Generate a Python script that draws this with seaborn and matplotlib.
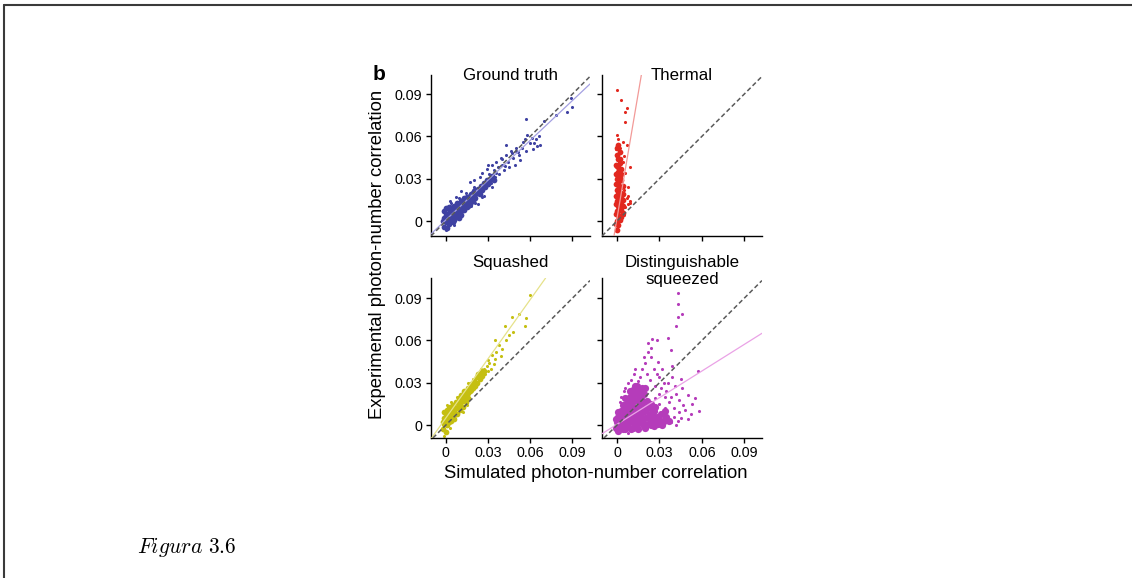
import matplotlib
matplotlib.use("Agg")
import matplotlib.pyplot as plt
import seaborn as sns
from matplotlib.lines import Line2D

sns.set_theme(style="ticks")
plt.rcParams['font.family'] = ['Liberation Sans', 'DejaVu Sans']
plt.rcParams['mathtext.fontset'] = 'cm'
for key in ['text.color', 'axes.labelcolor', 'xtick.color', 'ytick.color']:
    plt.rcParams[key] = 'black'

# axis ticks shared by every panel
tick_values = [0, 0.03, 0.06, 0.09]
tick_labels = ['0', '0.03', '0.06', '0.09']

panel_titles = ['Ground truth', 'Thermal', 'Squashed', 'Distinguishable\nsqueezed']
point_colors = ['#3f42a2', '#e2281f', '#c5bf12', '#b53cba']
fit_colors = ['#a4a0e2', '#f29a98', '#e6e28a', '#eaa2e6']
fit_slopes = [0.94, 5.9, 1.4, 0.63]
fit_intercepts = [0.0008, 0.0019, 0.005, 0.0005]

# ground truth: dense core and scattered points
gt_core_x = [-0.001, -0.001, -0.001, 0.000, 0.000, 0.000, 0.001, 0.001, 0.002, 0.002, 0.002,
             0.003, 0.003, 0.004, 0.004, 0.004, 0.005, 0.006, 0.006, 0.006, 0.007,
             0.008, 0.008, 0.009, 0.009, 0.010, 0.011, 0.011, 0.012, 0.013, 0.013,
             0.014, 0.015, 0.015, 0.016, 0.017, 0.018, 0.018, 0.019, 0.020, 0.020,
             0.021, 0.022, 0.023, 0.024, 0.025, 0.026, 0.027, 0.028, 0.029, 0.030, 0.032,
             0.001, 0.003, 0.005, 0.007, 0.009, 0.012, 0.014, 0.017, 0.019, 0.021, 0.023,
             0.025, 0.027, 0.029, 0.031, 0.033, 0.034, 0.005, 0.008, 0.011, -0.002, 0.016]
gt_core_y = [-0.004, 0.002, 0.007, -0.001, 0.004, 0.009, -0.005, 0.001, 0.006, -0.002, 0.010,
             0.002, -0.001, 0.005, 0.009, 0.000, 0.003, 0.007, 0.011, 0.001, 0.004,
             0.008, 0.013, 0.005, 0.002, 0.010, 0.007, 0.014, 0.011, 0.008, 0.016,
             0.012, 0.010, 0.017, 0.014, 0.012, 0.019, 0.016, 0.014, 0.021, 0.018,
             0.016, 0.020, 0.023, 0.019, 0.025, 0.022, 0.027, 0.024, 0.029, 0.026, 0.030,
             0.005, 0.008, 0.010, 0.009, 0.012, 0.015, 0.015, 0.018, 0.020, 0.022, 0.020,
             0.023, 0.025, 0.027, 0.028, 0.032, 0.029, -0.001, 0.003, 0.004, 0.000, 0.011]
gt_sparse_x = [0.017, 0.020, 0.024, 0.026, 0.029, 0.031, 0.033, 0.034, 0.035, 0.036, 0.037, 0.038,
               0.039, 0.040, 0.041, 0.043, 0.044, 0.045, 0.046, 0.048, 0.049, 0.050, 0.052, 0.053,
               0.055, 0.057, 0.058, 0.060, 0.062, 0.064, 0.066, 0.067, 0.070, 0.078, 0.086, 0.090,
               0.089, 0.057, 0.043, 0.050, 0.065, 0.023, 0.027, 0.033, 0.003, 0.007, 0.011, 0.000, 0.006,
               0.030, 0.032, 0.036, 0.040, 0.042, 0.047, 0.051, 0.054, 0.056, 0.061, 0.063, 0.004,
               0.009, 0.014, 0.020, 0.018, 0.021, 0.026]
gt_sparse_y = [0.028, 0.029, 0.031, 0.034, 0.037, 0.033, 0.040, 0.036, 0.031, 0.042, 0.038, 0.033,
               0.045, 0.040, 0.036, 0.047, 0.042, 0.038, 0.050, 0.045, 0.040, 0.052, 0.047, 0.043,
               0.056, 0.050, 0.061, 0.055, 0.051, 0.058, 0.060, 0.054, 0.071, 0.075, 0.077, 0.081,
               0.087, 0.072, 0.054, 0.050, 0.053, 0.012, 0.018, 0.024, 0.014, 0.017, 0.021, -0.006, -0.003,
               0.040, 0.027, 0.034, 0.044, 0.039, 0.048, 0.049, 0.052, 0.058, 0.059, 0.055, 0.013,
               0.016, 0.020, 0.024, 0.011, 0.013, 0.017]

# thermal
th_core_x = [0.000, 0.001, 0.000, 0.002, 0.001, 0.003, 0.000, 0.002, 0.004, 0.001, 0.003, 0.000,
             0.002, 0.004, 0.001, 0.003, 0.000, 0.002, 0.004, 0.001, 0.003, 0.000, 0.002, 0.001,
             0.003, 0.000, 0.002, 0.001, 0.000, 0.002,
             -0.001, -0.001, -0.001, -0.001, -0.001, -0.001, -0.001, 0.001, 0.001, 0.001, 0.001,
             0.001, 0.001, 0.003, 0.003, 0.003, 0.003, 0.004, 0.004, 0.002, 0.002, 0.000, 0.001]
th_core_y = [-0.006, -0.003, 0.000, 0.001, 0.004, 0.003, 0.007, 0.008, 0.006, 0.011, 0.012, 0.014,
             0.016, 0.015, 0.019, 0.020, 0.022, 0.024, 0.025, 0.027, 0.029, 0.030, 0.032, 0.035,
             0.037, 0.039, 0.041, 0.044, 0.047, 0.049,
             -0.002, 0.005, 0.012, 0.018, 0.026, 0.033, 0.040, 0.001, 0.008, 0.015, 0.023,
             0.031, 0.038, 0.008, 0.016, 0.024, 0.033, 0.011, 0.019, 0.036, 0.044, 0.052, 0.054]
th_sparse_x = [0.000, 0.003, 0.007, 0.006, 0.006, 0.000, 0.001, 0.004, 0.007, 0.002, 0.005, 0.009,
               0.006, 0.008, 0.007, 0.009, 0.008, 0.005, 0.006, 0.005, -0.001, 0.004, 0.009, 0.008]
th_sparse_y = [0.093, 0.086, 0.080, 0.077, 0.070, 0.061, 0.058, 0.056, 0.054, 0.052, 0.046, 0.038,
               0.034, 0.024, 0.016, 0.013, 0.018, 0.022, 0.010, 0.004, 0.051, 0.042, 0.014, 0.012]

# squashed
sq_core_x = [-0.002, -0.001, -0.001, 0.000, 0.000, 0.000, 0.001, 0.001, 0.002, 0.002, 0.003, 0.003,
             0.004, 0.004, 0.005, 0.005, 0.006, 0.006, 0.007, 0.007, 0.008, 0.009, 0.009, 0.010,
             0.011, 0.011, 0.012, 0.013, 0.013, 0.014, 0.015, 0.016, 0.016, 0.017, 0.018, 0.019,
             0.020, 0.021, 0.022, 0.024, 0.025, 0.026,
             0.001, 0.003, 0.005, 0.006, 0.008, 0.010, 0.012, 0.014, 0.016, 0.018, 0.020, 0.022,
             0.023, 0.027, -0.002, -0.001, 0.002]
sq_core_y = [-0.003, 0.001, 0.005, -0.005, 0.003, 0.008, 0.000, 0.011, 0.005, 0.002, 0.008, 0.013,
             0.003, 0.010, 0.006, 0.014, 0.009, 0.004, 0.012, 0.016, 0.008, 0.014, 0.019, 0.011,
             0.016, 0.021, 0.013, 0.019, 0.024, 0.016, 0.022, 0.026, 0.019, 0.024, 0.029, 0.026,
             0.031, 0.028, 0.034, 0.033, 0.037, 0.035,
             0.006, 0.004, 0.010, 0.013, 0.012, 0.016, 0.019, 0.021, 0.023, 0.025, 0.028, 0.030,
             0.036, 0.038, 0.002, 0.009, 0.012]
sq_sparse_x = [0.027, 0.028, 0.029, 0.030, 0.031, 0.032, 0.033, 0.034, 0.035, 0.035, 0.036, 0.038,
               0.039, 0.040, 0.042, 0.043, 0.045, 0.047, 0.048, 0.052, 0.057, 0.060, 0.056, 0.030,
               0.025, 0.023, 0.012, 0.015, 0.001, 0.004, 0.008, -0.001, 0.003, 0.019, 0.016]
sq_sparse_y = [0.040, 0.036, 0.042, 0.038, 0.044, 0.040, 0.050, 0.043, 0.047, 0.060, 0.052, 0.057,
               0.049, 0.054, 0.070, 0.060, 0.064, 0.077, 0.066, 0.079, 0.076, 0.092, 0.070, 0.046,
               0.040, 0.030, 0.009, 0.014, 0.014, 0.016, 0.020, -0.008, -0.002, 0.033, 0.030]

# distinguishable squeezed
ds_core_x = [-0.001, 0.000, 0.001, 0.001, 0.002, 0.003, 0.003, 0.004, 0.005, 0.005, 0.006, 0.007,
             0.007, 0.008, 0.008, 0.009, 0.010, 0.010, 0.011, 0.011, 0.012, 0.012, 0.013, 0.014,
             0.014, 0.015, 0.016, 0.016, 0.017, 0.018, 0.019, 0.019, 0.020, 0.021, 0.022, 0.023,
             0.024, 0.025, 0.026, 0.028, 0.029, 0.031, 0.033, 0.035, 0.018, 0.013, 0.004, 0.006,
             0.002, 0.004, 0.006, 0.007, 0.009, 0.009, 0.010, 0.011, 0.012, 0.013, 0.013, 0.014,
             0.015, 0.016, 0.017, 0.017, 0.018, 0.019, 0.020, 0.021, 0.022, 0.023, 0.024, 0.025,
             0.027, 0.027, 0.030, 0.032, 0.034, 0.037, 0.003, 0.006, 0.010, 0.015, 0.020, 0.026,
             0.011, 0.014, 0.016, 0.020, -0.001, 0.001, 0.002, 0.005, 0.008, 0.009]
ds_core_y = [-0.002, 0.002, -0.004, 0.006, 0.000, 0.004, 0.010, -0.003, 0.002, 0.008, 0.014, -0.001,
             0.005, 0.011, 0.018, 0.002, 0.008, 0.015, -0.002, 0.022, 0.004, 0.012, 0.018, 0.000,
             0.008, 0.025, 0.014, 0.003, 0.020, 0.009, -0.001, 0.016, 0.005, 0.012, 0.001, 0.008,
             0.015, 0.003, 0.010, 0.006, 0.001, 0.008, 0.003, 0.006, 0.026, 0.028, 0.014, 0.019,
             0.008, 0.005, 0.010, 0.002, 0.013, 0.020, 0.004, 0.010, 0.017, 0.000, 0.006, 0.022,
             0.012, 0.018, 0.006, 0.013, 0.002, 0.022, 0.010, 0.017, 0.006, 0.013, 0.000, 0.008,
             0.004, 0.013, 0.004, 0.000, 0.010, 0.003, 0.000, -0.003, -0.003, -0.003, -0.002, -0.001,
             0.025, 0.028, 0.024, 0.026, 0.004, 0.009, 0.003, 0.005, 0.015, 0.024]
ds_sparse_x = [0.043, 0.043, 0.043, 0.046, 0.042, 0.038, 0.036, 0.028, 0.025, 0.022, 0.024, 0.020,
               0.018, 0.021, 0.026, 0.030, 0.033, 0.035, 0.038, 0.041, 0.044, 0.047, 0.050, 0.055,
               0.048, 0.052, 0.057, 0.045, 0.040, 0.037, 0.030, 0.027, 0.023, 0.010, 0.012, 0.016,
               0.005, 0.002, 0.038, 0.042, 0.044, 0.030, 0.034, 0.027, 0.008,
               0.031, 0.036, 0.039, 0.042, 0.046, 0.028, 0.032, 0.019, 0.024, 0.029, 0.034, 0.040,
               0.043, 0.050, 0.053, 0.058, 0.015, 0.013, 0.008, 0.006, 0.003, 0.045, 0.039, 0.022]
ds_sparse_y = [0.094, 0.086, 0.077, 0.079, 0.070, 0.053, 0.062, 0.060, 0.061, 0.052, 0.048, 0.044,
               0.040, 0.036, 0.040, 0.034, 0.030, 0.024, 0.020, 0.028, 0.018, 0.014, 0.021, 0.019,
               0.011, 0.008, 0.038, 0.005, 0.012, 0.016, 0.022, 0.028, 0.032, 0.032, 0.036, 0.034,
               0.024, 0.016, 0.002, 0.000, 0.009, 0.015, 0.012, 0.019, -0.006,
               0.026, 0.030, 0.034, 0.022, 0.026, 0.036, 0.040, 0.048, 0.055, 0.045, 0.020, 0.006,
               0.003, 0.004, 0.015, 0.010, 0.031, 0.040, 0.030, 0.026, 0.020, 0.033, 0.042, 0.058]

core_points = [(gt_core_x, gt_core_y), (th_core_x, th_core_y), (sq_core_x, sq_core_y), (ds_core_x, ds_core_y)]
sparse_points = [(gt_sparse_x, gt_sparse_y), (th_sparse_x, th_sparse_y),
                 (sq_sparse_x, sq_sparse_y), (ds_sparse_x, ds_sparse_y)]

fig = plt.figure(figsize=(11.32, 5.78), dpi=100)
rects = [[0.3807, 0.5917, 0.1405, 0.2785], [0.5318, 0.5917, 0.1413, 0.2785],
         [0.3807, 0.2422, 0.1405, 0.2768], [0.5318, 0.2422, 0.1413, 0.2768]]
ylims = [(-0.0106, 0.1035), (-0.0106, 0.1035), (-0.0092, 0.1043), (-0.0092, 0.1043)]
title_offsets = [-0.5, -0.5, 11.5, 5]
core_sizes = [17, 17, 17, 27]

for i in range(4):
    ax = fig.add_axes(rects[i])
    cx, cy = core_points[i]
    sx, sy = sparse_points[i]
    sns.scatterplot(x=cx, y=cy, ax=ax, color=point_colors[i], s=core_sizes[i], linewidth=0, zorder=2)
    sns.scatterplot(x=sx, y=sy, ax=ax, color=point_colors[i], s=5, linewidth=0, zorder=2)
    ax.axline((0, fit_intercepts[i]), slope=fit_slopes[i], color=fit_colors[i], lw=0.9, zorder=3)
    ax.axline((0, 0), slope=1, color='#5a5a5a', lw=1.1, ls=(0, (3, 1.8)), zorder=4)
    ax.set_xlim(-0.0106, 0.1025)
    ax.set_ylim(*ylims[i])
    ax.set_xticks(tick_values)
    ax.set_yticks(tick_values)
    ax.set_xticklabels(tick_labels if i >= 2 else [])
    ax.set_yticklabels(tick_labels if i % 2 == 0 else [])
    ax.tick_params(length=3.6, width=1, color='black', labelsize=10.3, pad=2.5)
    sns.despine(ax=ax)
    for side in ['left', 'bottom']:
        ax.spines[side].set_linewidth(1.0)
        ax.spines[side].set_color('black')
    ax.set_xlabel('')
    ax.set_ylabel('')
    ax.annotate(panel_titles[i], xy=(0.5, 1.0), xycoords='axes fraction',
                xytext=(0, title_offsets[i]), textcoords='offset points',
                ha='center', va='center', fontsize=12.2, linespacing=1.1)

fig.text(379 / 1132, 1 - 74 / 578, 'b', fontsize=15, fontweight='bold', ha='center', va='center')
fig.text(378 / 1132, 1 - 254 / 578, 'Experimental photon-number correlation',
         rotation=90, ha='center', va='center', fontsize=13.3)
fig.text(596 / 1132, 1 - 473 / 578, 'Simulated photon-number correlation',
         ha='center', va='center', fontsize=13.3)
fig.text(137 / 1132, 1 - 547 / 578, r'$Figura\ 3.6$', fontsize=15.5, ha='left', va='center')

# page frame lines
fig.add_artist(Line2D([4 / 1132, 1], [1 - 5 / 578, 1 - 5 / 578], color='#3a3a3a', lw=1.5))
fig.add_artist(Line2D([4 / 1132, 4 / 1132], [0, 1 - 5 / 578], color='#3a3a3a', lw=1.5))

fig.savefig('out.png', dpi=100)
